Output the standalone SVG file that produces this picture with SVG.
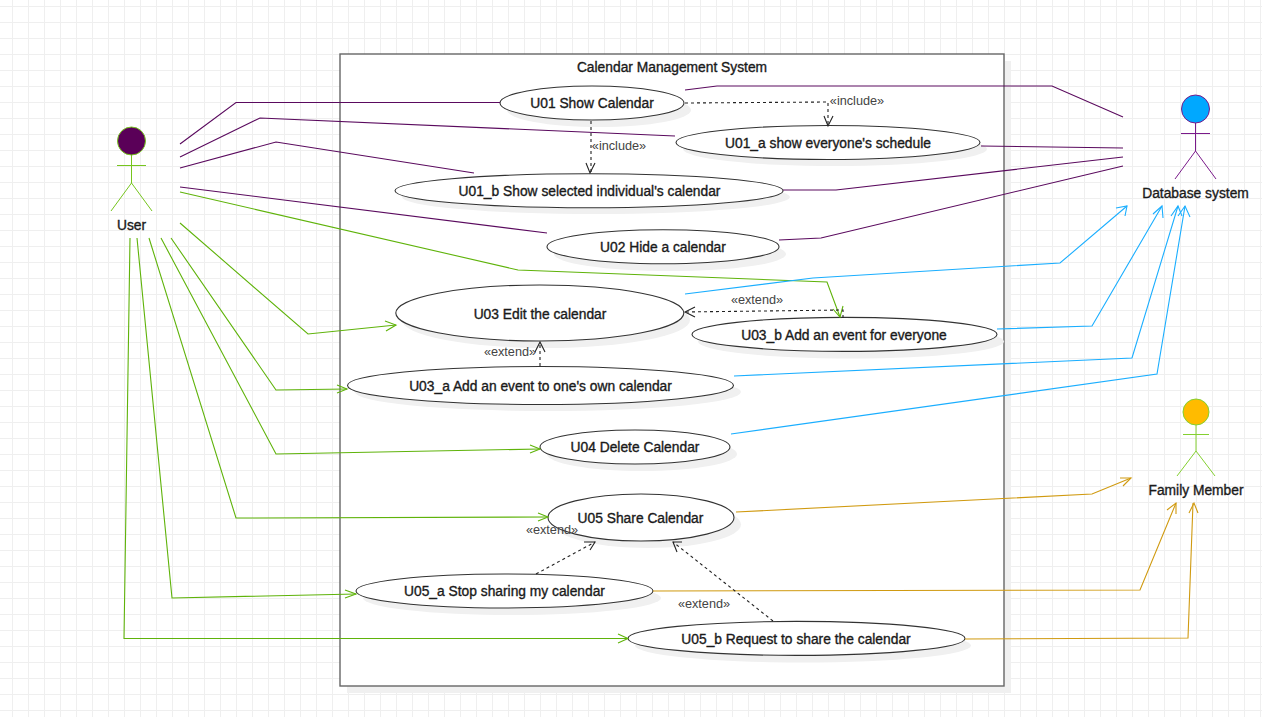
<svg xmlns="http://www.w3.org/2000/svg" width="1262" height="717" viewBox="0 0 1262 717">
<style>
text{font-family:"Liberation Sans",Arial,sans-serif;fill:#1a1a1a}
.t{font-size:13.800px;text-anchor:middle;stroke:#1a1a1a;stroke-width:.35px;transform:translateY(.6px)}
.l{font-size:12.700px;fill:#444;text-anchor:middle}
.u ellipse.s{fill:#f0f0f0;stroke:none}
.u ellipse.e{fill:#fff;stroke:#333;stroke-width:1.1}
.c path{fill:none;stroke-width:1.1}
.p path{stroke:#5a0a5e}
.g path{stroke:#5fb30a}
.b path{stroke:#1aaeff}
.o path{stroke:#d09a10}
.d path{stroke:#222;stroke-dasharray:3 3}
.h path{stroke:#222}
</style>
<defs>
<pattern id="grid" x="12" y="6" width="16" height="16" patternUnits="userSpaceOnUse"><path d="M.5 0V16M0 .5H16" fill="none" stroke="#efefef"/></pattern>
</defs>
<rect width="1262" height="717" fill="#fff"/>
<rect width="1262" height="717" fill="url(#grid)"/>
<g id="system">
<rect x="347" y="61" width="664" height="632" fill="#f0f0f0"/>
<rect x="340" y="54" width="664" height="632" fill="#fff" stroke="#666" stroke-width="1.4"/>
<text class="t" x="672" y="71">Calendar Management System</text>
</g>
<g id="n-u01" class="u"><ellipse class="s" cx="599" cy="110" rx="92" ry="17"/><ellipse class="e" cx="592" cy="103" rx="92" ry="17"/><text class="t" x="592" y="107">U01 Show Calendar</text></g>
<g id="n-u01a" class="u"><ellipse class="s" cx="835" cy="149" rx="152" ry="17"/><ellipse class="e" cx="828" cy="142.500" rx="152" ry="17"/><text class="t" x="828" y="147">U01_a show everyone's schedule</text></g>
<g id="n-u01b" class="u"><ellipse class="s" cx="596" cy="197" rx="194" ry="17"/><ellipse class="e" cx="589" cy="190.700" rx="194" ry="17"/><text class="t" x="589.500" y="195">U01_b Show selected individual's calendar</text></g>
<g id="n-u02" class="u"><ellipse class="s" cx="670" cy="254" rx="116" ry="17"/><ellipse class="e" cx="663" cy="246.700" rx="116" ry="17"/><text class="t" x="663" y="251">U02 Hide a calendar</text></g>
<g id="n-u03" class="u"><ellipse class="s" cx="546" cy="320" rx="144" ry="28"/><ellipse class="e" cx="539.800" cy="313" rx="144" ry="28"/><text class="t" x="540" y="318">U03 Edit the calendar</text></g>
<g id="n-u03b" class="u"><ellipse class="s" cx="851" cy="341.500" rx="153" ry="17"/><ellipse class="e" cx="844.500" cy="334.400" rx="152.500" ry="17"/><text class="t" x="844" y="339">U03_b Add an event for everyone</text></g>
<g id="n-u03a" class="u"><ellipse class="s" cx="548" cy="392" rx="193" ry="19"/><ellipse class="e" cx="540.500" cy="385.500" rx="193" ry="19"/><text class="t" x="540.500" y="390">U03_a Add an event to one's own calendar</text></g>
<g id="n-u04" class="u"><ellipse class="s" cx="642" cy="454" rx="95" ry="17"/><ellipse class="e" cx="635" cy="447" rx="95" ry="17"/><text class="t" x="635" y="451">U04 Delete Calendar</text></g>
<g id="n-u05" class="u"><ellipse class="s" cx="648" cy="524.500" rx="93" ry="23.500"/><ellipse class="e" cx="641" cy="517.500" rx="93" ry="23.500"/><text class="t" x="640.500" y="522">U05 Share Calendar</text></g>
<g id="n-u05a" class="u"><ellipse class="s" cx="512" cy="598" rx="149" ry="17"/><ellipse class="e" cx="504.500" cy="591" rx="148.500" ry="17"/><text class="t" x="504.500" y="595">U05_a Stop sharing my calendar</text></g>
<g id="n-u05b" class="u"><ellipse class="s" cx="803" cy="645.500" rx="168" ry="17"/><ellipse class="e" cx="796.500" cy="638.400" rx="168.500" ry="17"/><text class="t" x="796" y="643">U05_b Request to share the calendar</text></g>
<g id="connectors" class="c">
<g class="p">
<path d="M180 144L236 102.500H500"/>
<path d="M180 157L260 118L675 136"/>
<path d="M180 168L276 142L474 173"/>
<path d="M180 187L547 233"/>
<path d="M685 90L717 86H1052L1123 117"/>
<path d="M981 146L1123 148"/>
<path d="M783 190H836L1123 157"/>
<path d="M779 240L821 238L1123 166"/>
</g>
<g class="g">
<path d="M180 192L518 270L827 282L840 317"/>
<path d="M833 309L840 317L843 306"/>
<path d="M180 223L308 334L396 325"/>
<path d="M385 321L396 325L386 331"/>
<path d="M171 238L276 390L347 389"/>
<path d="M337 385L347 389L337 393"/>
<path d="M161 238L276 454L540 449"/>
<path d="M530 445L540 449L530 453"/>
<path d="M149 238L236 518L548 517"/>
<path d="M538 513L548 517L538 521"/>
<path d="M137 238L172 598L356 594"/>
<path d="M345 590L356 594L345 598"/>
<path d="M130 238L124 638.500H628"/>
<path d="M618 634L628 638.500L618 643"/>
</g>
<g class="b">
<path d="M685 294L813 278L1060 263L1127 206"/>
<path d="M1116 208L1127 206L1125 216"/>
<path d="M997 329L1092 326L1162 206"/>
<path d="M1153 214L1162 206L1163 218"/>
<path d="M734 376L1132 358L1178 206"/>
<path d="M1171 216L1178 206L1182 216"/>
<path d="M731 434L1157 374L1185 206"/>
<path d="M1178 216L1185 206L1190 217"/>
</g>
<g class="o">
<path d="M736 512L1092 494L1131 478"/>
<path d="M1120 478L1131 478L1123 486"/>
<path d="M653 591L1140 590L1176 503"/>
<path d="M1167 510L1176 503L1176 514"/>
<path d="M965 639L1188 638L1193 503"/>
<path d="M1189 513L1194 503L1198 513"/>
</g>
<g class="d">
<path d="M685 103L828 102V126"/>
<path d="M591 121V173"/>
<path d="M843 318V310L684 312"/>
<path d="M540 366V342"/>
<path d="M536 574L595 542" stroke-width=".8"/>
<path d="M773 621L673 542" stroke-width=".7"/>
</g>
<g class="h">
<path d="M824 116L828 126L833 116"/>
<path d="M586 163L590 173L595 163"/>
<path d="M695 307L685 312L695 317"/>
<path d="M535 352L540 342L545 352"/>
<path d="M584 542L595 542L590 550" stroke-width=".8"/>
<path d="M682 542L673 542L677 552" stroke-width=".8"/>
</g>
</g>
<g id="labels">
<text class="l" x="857" y="105">«include»</text>
<text class="l" x="619" y="150">«include»</text>
<text class="l" x="757" y="304">«extend»</text>
<text class="l" x="510" y="356">«extend»</text>
<text class="l" x="552" y="534">«extend»</text>
<text class="l" x="704" y="608">«extend»</text>
</g>
<g id="a-user" fill="none" stroke="#76c51e" stroke-width="1">
<circle cx="131.500" cy="141" r="14" fill="#5a0058"/>
<path d="M131.500 155V183M117 165.500H146M111 211L131.500 183L152 211"/>
<text class="t" x="131.500" y="229">User</text>
</g>
<g id="a-db" fill="none" stroke="#7a1a8a" stroke-width="1">
<circle cx="1195.500" cy="109" r="14" fill="#00a8ff"/>
<path d="M1195.500 123V151M1181 133.500H1210M1175 179L1195.500 151L1216 179"/>
<text class="t" x="1195.500" y="197">Database system</text>
</g>
<g id="a-fm" fill="none" stroke="#84d030" stroke-width="1">
<circle cx="1196" cy="412" r="13" fill="#ffbb00"/>
<path d="M1196 425V451M1183 434.500H1209M1177 476L1196 451L1215 476"/>
<text class="t" x="1196" y="494">Family Member</text>
</g>
</svg>
